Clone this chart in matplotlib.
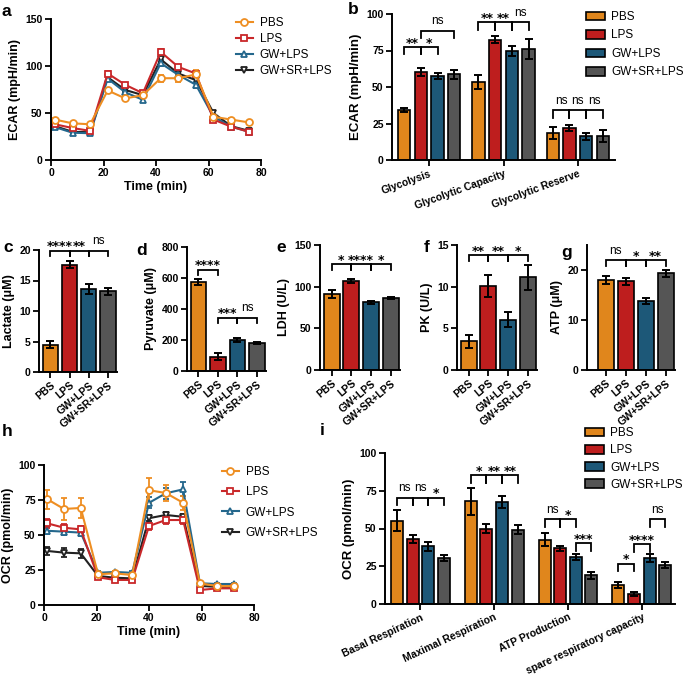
import numpy as np
import matplotlib
matplotlib.use('Agg')
import matplotlib.pyplot as plt
from matplotlib.lines import Line2D
from matplotlib.patches import Patch

plt.rcParams['font.family'] = ['Liberation Sans', 'DejaVu Sans']
plt.rcParams['font.weight'] = 'bold'
plt.rcParams['axes.labelweight'] = 'bold'

W, H = 688, 693

groups = ['PBS', 'LPS', 'GW+LPS', 'GW+SR+LPS']
bar_colors = ['#E0861C', '#BE1E1E', '#1D5878', '#555555']
line_colors = ['#EE8E22', '#C9282A', '#24678C', '#222222']
line_markers = ['o', 's', '^', 'v']

# a: ECAR time course
t_ecar = [1.5, 8.2, 14.9, 21.6, 28.3, 35.0, 41.8, 48.5, 55.2, 61.9, 68.6, 75.4]
ecar_pbs = [43, 39, 38, 74, 65.5, 69, 87, 87, 91, 46, 43, 40]
ecar_lps = [38, 34, 31, 92, 80, 71, 115, 99, 92, 43, 35.5, 30]
ecar_gw = [35, 29, 28.5, 86.5, 72, 64, 103, 90.5, 80, 46, 35.5, 30]
ecar_sr = [36, 30, 29.5, 88, 74.5, 69, 107, 92, 85, 50, 36, 31]
ecar_pbs_err = [2, 1.5, 1.5, 2, 2, 2, 3.5, 3.5, 5, 2, 1.5, 1.5]
ecar_lps_err = [2, 1.5, 1.5, 2.5, 2, 2, 3, 2.5, 3, 2, 1.5, 1.5]
ecar_gw_err = [2, 1.5, 1.5, 2.5, 2, 2, 3, 2.5, 3, 2, 1.5, 1.5]
ecar_sr_err = [2, 1.5, 1.5, 2.5, 2, 2, 3, 2.5, 3, 2, 1.5, 1.5]

# b: glycolysis parameters
b_cats = ['Glycolysis', 'Glycolytic Capacity', 'Glycolytic Reserve']
b_vals = {'PBS': [34.1, 53.3, 18.5], 'LPS': [60, 82.4, 21.7],
          'GW+LPS': [57.7, 74.6, 16.2], 'GW+SR+LPS': [58.6, 76, 16.2]}
b_errs = {'PBS': [1.4, 4.9, 4.2], 'LPS': [2.8, 2.6, 2.0],
          'GW+LPS': [2.0, 3.2, 2.6], 'GW+SR+LPS': [3.0, 7.0, 4.2]}

# c-g: single measurements
lactate = [4.5, 17.6, 13.6, 13.2]
lactate_err = [0.55, 0.6, 0.75, 0.55]
pyruvate = [573, 93, 200, 179]
pyruvate_err = [20, 22, 10, 8]
ldh = [91.5, 106.5, 81.5, 86]
ldh_err = [5, 2.5, 1.8, 1.2]
pk = [3.44, 10.05, 6.05, 11.1]
pk_err = [0.75, 1.3, 0.9, 1.45]
atp = [18.0, 17.7, 13.8, 19.3]
atp_err = [0.75, 0.75, 0.55, 0.65]

# h: OCR time course
t_ocr = [1.3, 7.6, 14.0, 20.6, 27.0, 33.6, 40.0, 46.4, 53.0, 59.4, 66.0, 72.5]
ocr_pbs = [75.5, 68.6, 69.3, 22, 22.6, 21.4, 82, 80, 73, 15.5, 13.5, 13.5]
ocr_lps = [58.3, 55.2, 54, 19.8, 17.9, 17.9, 56.4, 60.7, 60.7, 10.7, 11.9, 11.9]
ocr_gw = [53, 52.4, 51.7, 23, 23.6, 23, 73, 79.8, 82.6, 15.5, 15, 15]
ocr_sr = [38.6, 37.4, 36.9, 20.7, 19.5, 19, 62, 64.3, 63, 13.6, 13, 13]
ocr_pbs_err = [7, 8, 7, 1.5, 1.5, 1.5, 9, 6, 5, 1, 1, 1]
ocr_lps_err = [3, 2.5, 2.5, 1, 1, 1, 2.5, 2.5, 2.5, 1, 1, 1]
ocr_gw_err = [2.5, 2.5, 2.5, 1, 1, 1, 4, 4, 5, 1, 1, 1]
ocr_sr_err = [3, 3, 3, 1, 1, 1, 2, 2, 2, 1, 1, 1]

# i: respiration parameters
i_cats = ['Basal Respiration', 'Maximal Respiration', 'ATP Production',
          'spare respiratory capacity']
i_vals = {'PBS': [55.2, 67.9, 42.6, 12.3], 'LPS': [43, 49.7, 36.9, 6.6],
          'GW+LPS': [38.2, 67.3, 31, 30.3], 'GW+SR+LPS': [30.5, 49.2, 18.9, 25.9]}
i_errs = {'PBS': [7, 9, 4.5, 2], 'LPS': [2.5, 3, 1.5, 1.5],
          'GW+LPS': [3, 4, 2, 2.8], 'GW+SR+LPS': [1.8, 3, 2.6, 2]}


def px_axes(fig, l, t, r, b):
    return fig.add_axes([l / W, 1 - b / H, (r - l) / W, (b - t) / H])


def style(ax):
    for s in ['top', 'right']:
        ax.spines[s].set_visible(False)
    for s in ['left', 'bottom']:
        ax.spines[s].set_linewidth(1.4)
    ax.tick_params(width=1.3, length=4, labelsize=7.5, pad=2)
    for lab in ax.get_yticklabels():
        lab.set_fontweight('bold')


def bracket(ax, x1, x2, y, text, leg):
    ax.plot([x1, x1, x2, x2], [y - leg, y, y, y - leg], color='black',
            lw=1.3, clip_on=False, solid_joinstyle='miter')
    if text == 'ns':
        ax.annotate(text, xy=((x1 + x2) / 2, y), xytext=(0, 4.5),
                    textcoords='offset points', ha='center', va='baseline',
                    fontsize=8.5, fontweight='normal', annotation_clip=False)
    else:
        ax.annotate(text, xy=((x1 + x2) / 2, y), xytext=(0, 0.3),
                    textcoords='offset points', ha='center', va='baseline',
                    fontsize=9, fontweight='bold', family='DejaVu Sans',
                    annotation_clip=False)


def line_panel(ax, t, series, errs):
    order = [3, 2, 1, 0]
    for k in order:
        ax.errorbar(t, series[k], yerr=errs[k], color=line_colors[k],
                    marker=line_markers[k], markersize=5, mfc='white',
                    mec=line_colors[k], mew=1.3, lw=1.5, capsize=2.5,
                    elinewidth=1.3, capthick=1.3)
    ax.set_xlim(0, 80)
    ax.set_xticks([0, 20, 40, 60, 80])
    ax.set_xlabel('Time (min)', fontsize=9, labelpad=2)
    style(ax)
    for lab in ax.get_xticklabels():
        lab.set_fontweight('bold')


def line_legend(ax, x, y, spacing):
    handles = [Line2D([], [], color=line_colors[k], marker=line_markers[k],
                      markersize=5, mfc='white', mec=line_colors[k], mew=1.3,
                      lw=1.5) for k in range(4)]
    ax.legend(handles, groups, loc='upper left', bbox_to_anchor=(x / W, 1 - y / H),
              bbox_transform=ax.figure.transFigure, frameon=False,
              prop={'size': 8.5, 'weight': 'normal'}, borderpad=0,
              borderaxespad=0, handlelength=1.4, handletextpad=0.6,
              labelspacing=spacing)


def bar_legend(ax, x, y, spacing):
    handles = [Patch(facecolor=bar_colors[k], edgecolor='black', lw=1.2)
               for k in range(4)]
    ax.legend(handles, groups, loc='upper left', bbox_to_anchor=(x / W, 1 - y / H),
              bbox_transform=ax.figure.transFigure, frameon=False,
              prop={'size': 8.5, 'weight': 'normal'}, borderpad=0,
              borderaxespad=0, handlelength=1.6, handleheight=0.75,
              handletextpad=0.55, labelspacing=spacing)


def grouped_panel(ax, cats, vals, errs, step, width, xlim, rot):
    x = np.arange(len(cats))
    for k, g in enumerate(groups):
        ax.bar(x + (k - 1.5) * step, vals[g], width=width, color=bar_colors[k],
               edgecolor='black', linewidth=1.2, yerr=errs[g], capsize=3,
               error_kw=dict(elinewidth=1.4, capthick=1.4, ecolor='black'))
    ax.set_xlim(*xlim)
    ax.set_ylim(0, 100)
    ax.set_yticks([0, 25, 50, 75, 100])
    ax.set_xticks(x)
    ax.set_xticklabels(cats, rotation=rot, ha='right', rotation_mode='anchor',
                       fontsize=8.5, fontweight='bold')
    style(ax)


def single_panel(ax, vals, errs, ymax, yticks, ylabel, xlim):
    x = np.arange(4)
    ax.bar(x, vals, width=0.8, color=bar_colors, edgecolor='black',
           linewidth=1.2, yerr=errs, capsize=3,
           error_kw=dict(elinewidth=1.4, capthick=1.4, ecolor='black'))
    ax.set_xlim(*xlim)
    ax.set_ylim(0, ymax)
    ax.set_yticks(yticks)
    ax.set_xticks(x)
    ax.set_xticklabels(groups, rotation=40, ha='right', rotation_mode='anchor',
                       fontsize=7.5, fontweight='bold')
    ax.set_ylabel(ylabel, fontsize=9, labelpad=3)
    style(ax)


fig = plt.figure(figsize=(W / 100, H / 100), dpi=100)

# panel a
ax_a = px_axes(fig, 51, 19, 261, 160)
line_panel(ax_a, t_ecar, [ecar_pbs, ecar_lps, ecar_gw, ecar_sr],
           [ecar_pbs_err, ecar_lps_err, ecar_gw_err, ecar_sr_err])
ax_a.set_ylim(0, 150)
ax_a.set_yticks([0, 50, 100, 150])
ax_a.set_ylabel('ECAR (mpH/min)', fontsize=9, labelpad=3)
line_legend(ax_a, 236, 17, 0.35)

# panel b
ax_b = px_axes(fig, 392, 14, 615, 160)
grouped_panel(ax_b, b_cats, b_vals, b_errs, 0.225, 0.166, (-0.5, 2.5), 20)
ax_b.set_ylabel('ECAR (mpH/min)', fontsize=9.5, labelpad=3)
bar_legend(ax_b, 586, 11, 0.55)
st = 0.225
lb = 5
bracket(ax_b, 0 - 1.5 * st, 0 - 0.5 * st, 77.3, '**', lb)
bracket(ax_b, 0 - 0.5 * st, 0 + 0.5 * st, 77.3, '*', lb)
bracket(ax_b, 0 - 0.5 * st, 0 + 1.5 * st, 88.6, 'ns', lb)
for j, txt in enumerate(['**', '**', 'ns']):
    bracket(ax_b, 1 + (j - 1.5) * st, 1 + (j - 0.5) * st, 94.3, txt, lb)
for j, txt in enumerate(['ns', 'ns', 'ns']):
    bracket(ax_b, 2 + (j - 1.5) * st, 2 + (j - 0.5) * st, 34, txt, lb)

# panels c-g
xl = (-0.59, 3.47)
ax_c = px_axes(fig, 39, 250, 117, 372)
single_panel(ax_c, lactate, lactate_err, 20, [0, 5, 10, 15, 20], 'Lactate (μM)', xl)
for j, txt in enumerate(['****', '**', 'ns']):
    bracket(ax_c, j, j + 1, 19.9, txt, 0.9)

ax_d = px_axes(fig, 187, 247, 266, 371)
single_panel(ax_d, pyruvate, pyruvate_err, 800, [0, 200, 400, 600, 800], 'Pyruvate (μM)', xl)
bracket(ax_d, 0, 1, 653, '****', 36)
bracket(ax_d, 1, 2, 345, '***', 36)
bracket(ax_d, 2, 3, 345, 'ns', 36)

ax_e = px_axes(fig, 320, 245, 400, 370)
single_panel(ax_e, ldh, ldh_err, 150, [0, 50, 100, 150], 'LDH (U/L)', xl)
for j, txt in enumerate(['*', '****', '*']):
    bracket(ax_e, j, j + 1, 127, txt, 7)

ax_f = px_axes(fig, 457, 245, 537, 370)
single_panel(ax_f, pk, pk_err, 15, [0, 5, 10, 15], 'PK (U/L)', xl)
for j, txt in enumerate(['**', '**', '*']):
    bracket(ax_f, j, j + 1, 13.8, txt, 0.7)

ax_g = px_axes(fig, 587, 245, 675, 370)
single_panel(ax_g, atp, atp_err, 25, [0, 10, 20], 'ATP (μM)', (-0.95, 3.47))
for j, txt in enumerate(['ns', '*', '**']):
    bracket(ax_g, j, j + 1, 22, txt, 1.2)

# panel h
ax_h = px_axes(fig, 44, 465, 254, 605)
line_panel(ax_h, t_ocr, [ocr_pbs, ocr_lps, ocr_gw, ocr_sr],
           [ocr_pbs_err, ocr_lps_err, ocr_gw_err, ocr_sr_err])
ax_h.set_ylim(0, 100)
ax_h.set_yticks([0, 25, 50, 75, 100])
ax_h.set_ylabel('OCR (pmol/min)', fontsize=9, labelpad=3)
line_legend(ax_h, 222, 466, 0.7)

# panel i
ax_i = px_axes(fig, 385, 453, 675, 604)
st = 0.212
grouped_panel(ax_i, i_cats, i_vals, i_errs, st, 0.163, (-0.48, 3.45), 25)
ax_i.set_ylabel('OCR (pmol/min)', fontsize=9.5, labelpad=3)
bar_legend(ax_i, 585, 427, 0.45)
lb = 5
for j, txt in enumerate(['ns', 'ns', '*']):
    bracket(ax_i, (j - 1.5) * st, (j - 0.5) * st, 70.5, txt, lb)
for j, txt in enumerate(['*', '**', '**']):
    bracket(ax_i, 1 + (j - 1.5) * st, 1 + (j - 0.5) * st, 85.3, txt, lb)
bracket(ax_i, 2 - 1.5 * st, 2 - 0.5 * st, 56.3, 'ns', lb)
bracket(ax_i, 2 - 0.5 * st, 2 + 0.5 * st, 56.3, '*', lb)
bracket(ax_i, 2 + 0.5 * st, 2 + 1.5 * st, 40.2, '***', lb)
bracket(ax_i, 3 - 1.5 * st, 3 - 0.5 * st, 26.6, '*', lb)
bracket(ax_i, 3 - 0.5 * st, 3 + 0.5 * st, 39.6, '****', lb)
bracket(ax_i, 3 + 0.5 * st, 3 + 1.5 * st, 56.3, 'ns', lb)

# panel letters
for letter, x, y in [('a', 2, 12), ('b', 348, 10), ('c', 3, 248), ('d', 136, 250),
                     ('e', 276, 248), ('f', 424, 248), ('g', 561, 253),
                     ('h', 2, 432), ('i', 320, 430)]:
    fig.text(x / W, 1 - y / H, letter, fontsize=12.5, fontweight='bold',
             va='center', ha='left')

fig.savefig('out.png', dpi=100)
